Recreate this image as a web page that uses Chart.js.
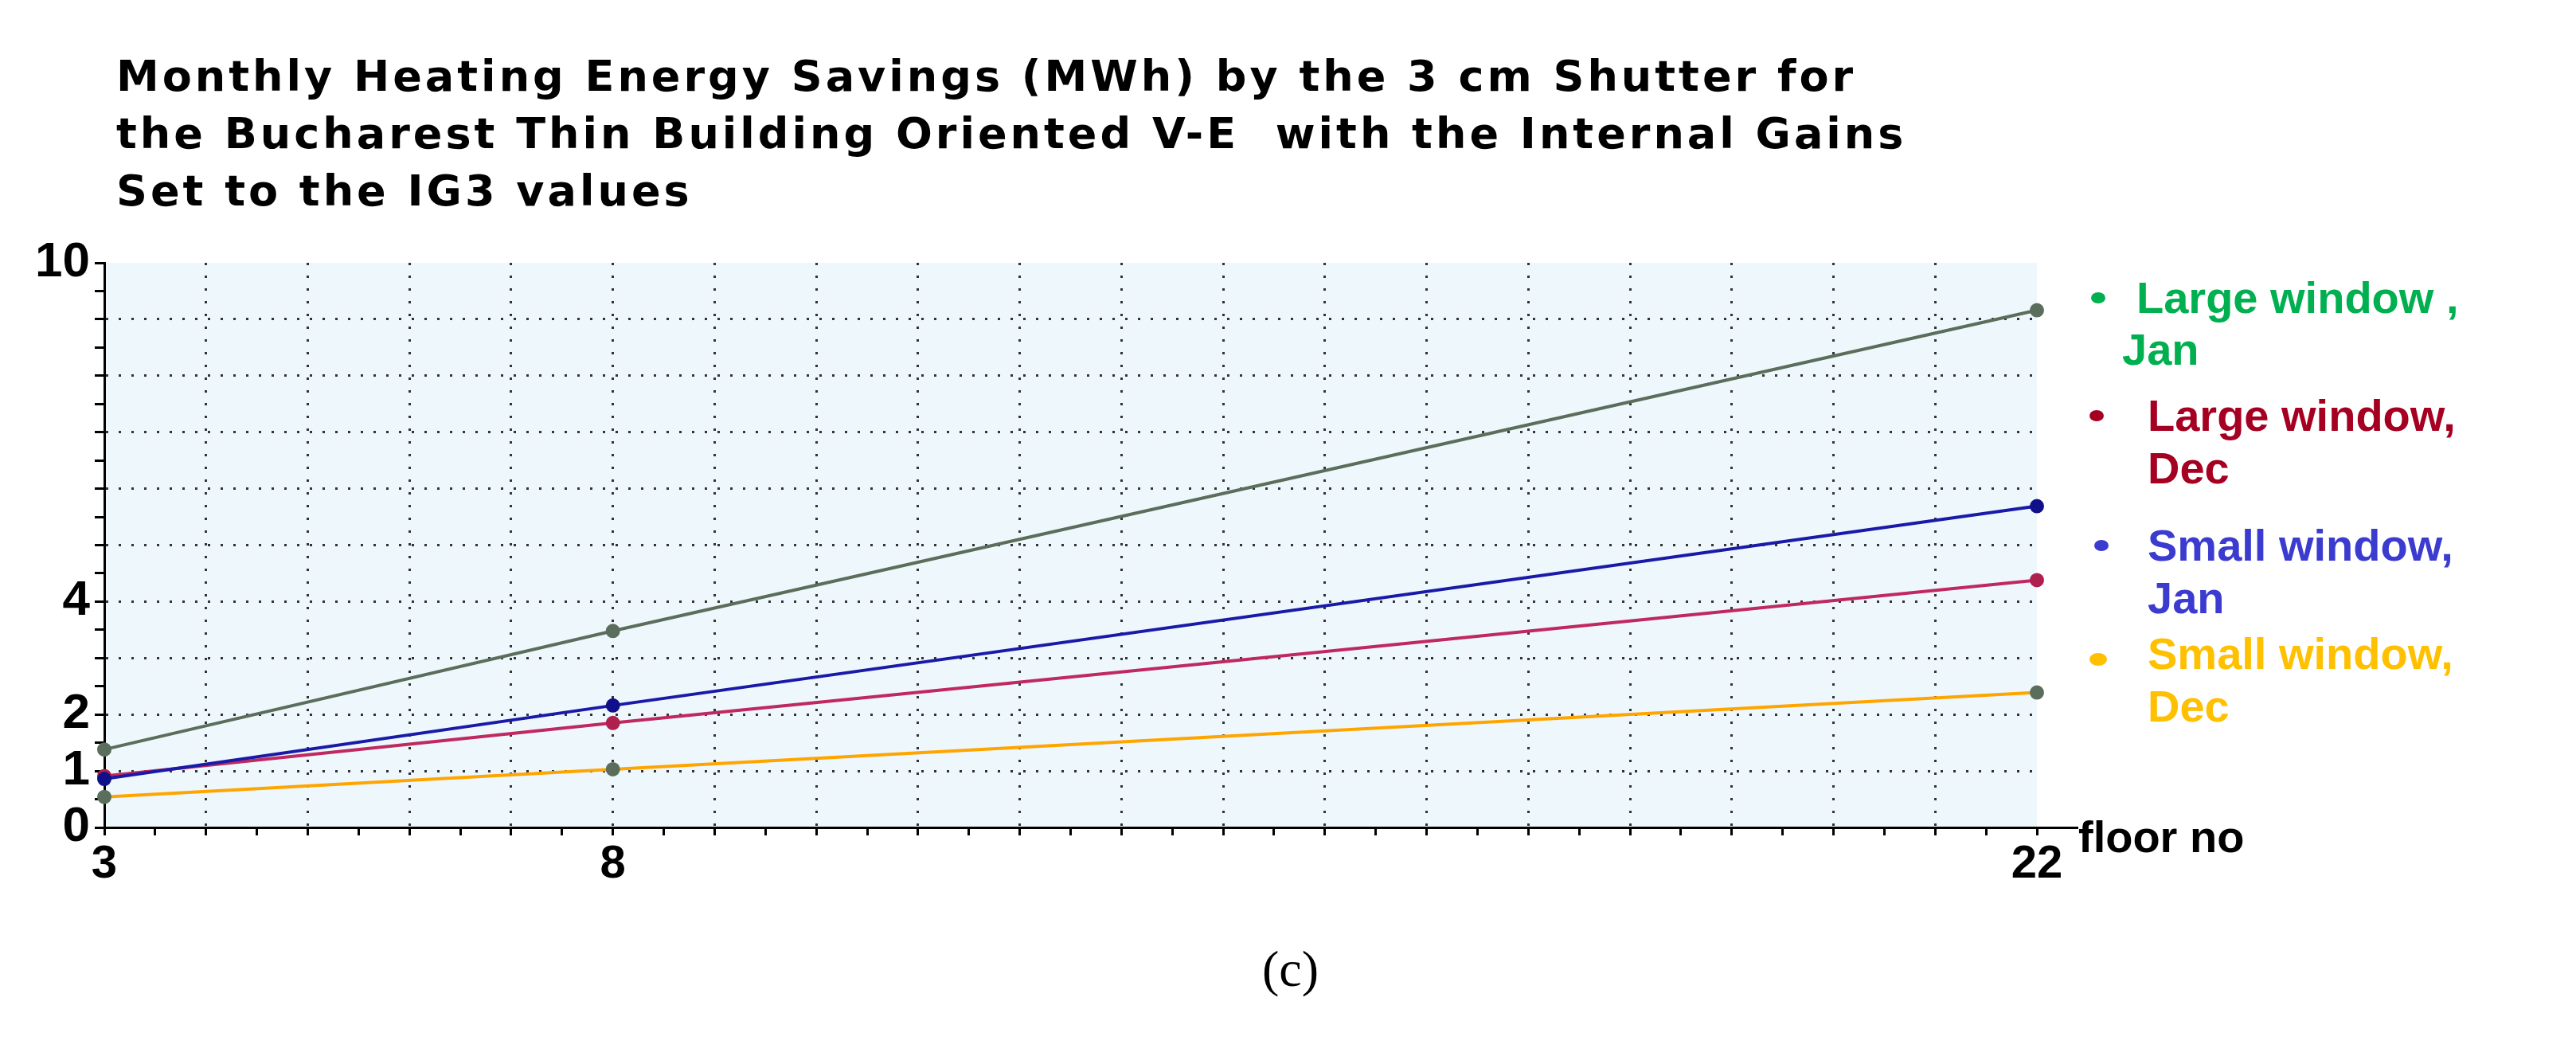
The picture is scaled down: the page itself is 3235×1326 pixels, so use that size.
<!DOCTYPE html>
<html><head><meta charset="utf-8">
<script src="https://cdn.jsdelivr.net/npm/chart.js@4"></script>
<style>
body{margin:0;background:#fff;width:3235px;height:1326px;overflow:hidden;position:relative;font-family:"Liberation Sans",Arial,sans-serif}
#wrap{position:absolute;left:0;top:0;width:3235px;height:1326px}
.t{position:absolute;font-weight:bold;white-space:nowrap}
#title{left:146px;top:60px;font-size:54px;line-height:72px;color:#000;font-family:"DejaVu Sans",sans-serif;letter-spacing:4px}
.lg{font-size:56px;line-height:66px}
.dot{position:absolute;width:18px;height:14px;border-radius:50%}
</style></head><body>
<div id="wrap"><canvas id="c" width="3235" height="1326"></canvas></div>
<div class="t" id="title">Monthly Heating Energy Savings (MWh) by the 3 cm Shutter for<br>the Bucharest Thin Building Oriented V-E&nbsp; with the Internal Gains<br>Set to the IG3 values</div>
<div class="dot" style="left:2626px;top:367px;background:#00b050"></div>
<div class="t lg" style="left:2683px;top:341px;color:#00b050">Large window ,</div>
<div class="t lg" style="left:2665px;top:406px;color:#00b050">Jan</div>
<div class="dot" style="left:2624px;top:515px;background:#a50021"></div>
<div class="t lg" style="left:2697px;top:489px;color:#a50021">Large window,<br>Dec</div>
<div class="dot" style="left:2630px;top:678px;background:#3b3bd0"></div>
<div class="t lg" style="left:2697px;top:652px;color:#3b3bd0">Small window,<br>Jan</div>
<div class="dot" style="left:2624px;top:820px;background:#ffc000;width:22px;height:16px"></div>
<div class="t lg" style="left:2697px;top:788px;color:#ffc000">Small window,<br>Dec</div>
<div class="t" style="left:2610px;top:1018px;font-size:56px;color:#000">floor no</div>
<div style="position:absolute;left:2558px;top:1038px;width:52px;height:3px;background:#000"></div>
<div style="position:absolute;left:1585px;top:1180px;font-size:64px;font-family:'Liberation Serif',serif;color:#000">(c)</div>
<script>
const floors=[3,8,22];
const largeJan=[1.38,3.48,9.16];
const largeDec=[0.91,1.85,4.38];
const smallJan=[0.86,2.16,5.69];
const smallDec=[0.54,1.03,2.39];
const yLabels=[0,1,2,4,10];
const xLabels=[3,8,22];
const pts=a=>a.map((v,i)=>({x:floors[i],y:v}));
const bg={id:'bg',beforeDraw(ch){const a=ch.chartArea,c=ch.ctx;c.save();c.fillStyle='#eef8fc';c.fillRect(a.left,a.top,a.right-a.left,a.bottom-a.top);c.restore();}};
const ds=(d,col,pc)=>({data:pts(d),borderColor:col,backgroundColor:pc,pointBorderColor:pc,pointRadius:7,borderWidth:4,tension:0});
new Chart(document.getElementById('c'),{type:'line',
data:{datasets:[ds(largeJan,'#5b6e5c','#5b6e5c'),ds(smallJan,'#1a1aa8','#10108a'),ds(largeDec,'#c02860','#b0204f'),ds(smallDec,'#ffa500','#5b6e5c')]},
options:{responsive:false,animation:false,devicePixelRatio:1,clip:false,
layout:{padding:{left:0,top:330,right:677,bottom:0}},
plugins:{legend:{display:false},tooltip:{enabled:false}},
scales:{
x:{type:'linear',min:3,max:22,afterFit(s){s.height=287;},
 border:{color:'#000',width:3,dash:[3,13]},
 grid:{color:c=>(Number.isInteger(c.tick?.value)&&c.tick.value>3&&c.tick.value<22)?'#333':'rgba(0,0,0,0)',lineWidth:3,tickColor:'#000',tickLength:10},
 ticks:{stepSize:0.5,autoSkip:false,maxRotation:0,color:'#000',font:{size:58,weight:'bold',family:'Liberation Sans'},padding:2,callback:v=>xLabels.includes(v)?String(v):''}},
y:{type:'linear',min:0,max:10,afterFit(s){s.width=131;},
 border:{color:'#000',width:3,dash:[3,13]},
 grid:{color:c=>(Number.isInteger(c.tick?.value)&&c.tick.value>0&&c.tick.value<10)?'#333':'rgba(0,0,0,0)',lineWidth:3,tickColor:'#000',tickLength:12},
 ticks:{stepSize:0.5,autoSkip:false,color:'#000',font:{size:62,weight:'bold',family:'Liberation Sans'},padding:6,callback:v=>yLabels.includes(v)?String(v):''}}
}},plugins:[bg]});
</script></body></html>
